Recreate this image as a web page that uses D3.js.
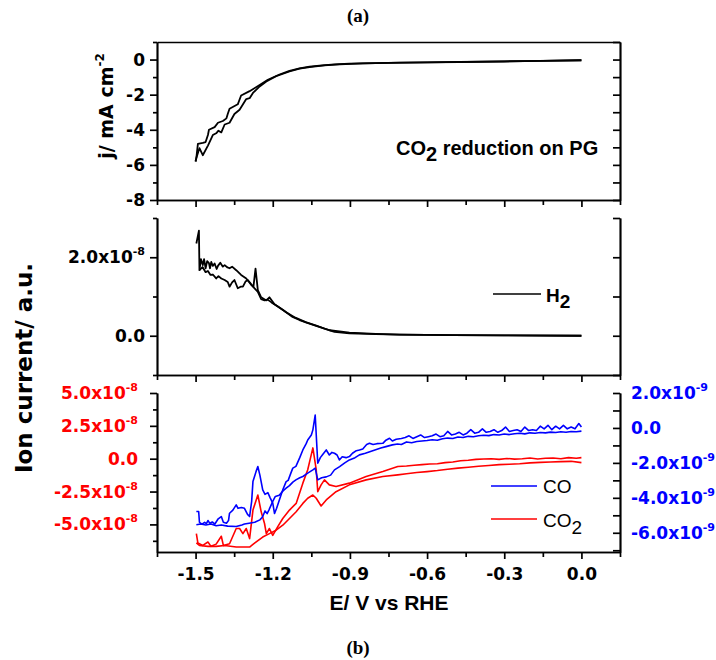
<!DOCTYPE html>
<html><head><meta charset="utf-8">
<script src="https://cdn.jsdelivr.net/npm/d3@7"></script>
<style>body{margin:0;background:#fff}</style>
</head><body>
<svg id="c" width="716" height="660" xmlns="http://www.w3.org/2000/svg"></svg>
<script>
// ---------------- DATA ----------------
const xTicks = [-1.5, -1.2, -0.9, -0.6, -0.3, 0.0];
const xMinorTicks = [-1.65, -1.35, -1.05, -0.75, -0.45, -0.15, 0.15];
const xTickLabels = ["-1.5", "-1.2", "-0.9", "-0.6", "-0.3", "0.0"];

const jTicks = [0, -2, -4, -6, -8];
const jMinorTicks = [1, -1, -3, -5, -7];
const jTickLabels = ["0", "-2", "-4", "-6", "-8"];

const h2Ticks = [2, 0];             // x10^-8
const h2MinorTicks = [3, 1, -1];
const h2TickLabels = [["2.0x10", "-8"], ["0.0", ""]];

const co2Ticks = [5, 2.5, 0, -2.5, -5];   // x10^-8
const co2MinorTicks = [3.75, 1.25, -1.25, -3.75, -6.25];
const co2TickLabels = [["5.0x10", "-8"], ["2.5x10", "-8"], ["0.0", ""], ["-2.5x10", "-8"], ["-5.0x10", "-8"]];

const coTicks = [2, 0, -2, -4, -6];       // x10^-9
const coMinorTicks = [1, -1, -3, -5, -7];
const coTickLabels = [["2.0x10", "-9"], ["0.0", ""], ["-2.0x10", "-9"], ["-4.0x10", "-9"], ["-6.0x10", "-9"]];

// current density j (mA cm^-2) vs E (V vs RHE), two scan branches
const jScanA = [[-1.5,-5.81],[-1.497,-5.6],[-1.491,-4.8],[-1.472,-4.75],[-1.461,-4.7],[-1.452,-4.3],[-1.448,-4.0],[-1.426,-3.85],[-1.413,-3.6],[-1.394,-3.5],[-1.38,-3.35],[-1.375,-3.1],[-1.368,-2.8],[-1.336,-2.55],[-1.323,-2.05],[-1.29,-1.8],[-1.251,-1.45],[-1.219,-1.15],[-1.174,-0.85],[-1.135,-0.64],[-1.096,-0.5],[-1.057,-0.4],[-1.018,-0.34],[-0.96,-0.27],[-0.902,-0.23],[-0.8,-0.2],[-0.707,-0.18],[-0.6,-0.16],[-0.447,-0.13],[-0.3,-0.1],[-0.15,-0.07],[0,-0.04]];
const jScanB = [[-1.5,-5.81],[-1.497,-5.6],[-1.485,-5.05],[-1.472,-5.45],[-1.452,-4.9],[-1.433,-4.3],[-1.42,-4.2],[-1.411,-4.05],[-1.4,-4.15],[-1.387,-3.7],[-1.368,-3.6],[-1.349,-3.1],[-1.329,-2.86],[-1.303,-2.25],[-1.29,-2.2],[-1.277,-1.9],[-1.251,-1.53],[-1.225,-1.25],[-1.187,-0.95],[-1.135,-0.68],[-1.096,-0.52],[-1.057,-0.43],[-1.0,-0.33],[-0.94,-0.27],[-0.85,-0.22],[-0.746,-0.19],[-0.6,-0.16],[-0.474,-0.14],[-0.3,-0.11],[-0.163,-0.08],[0,-0.04]];

// H2 ion current (x10^-8 a.u.)
const h2ScanA = [[-1.497,2.35],[-1.487,2.68],[-1.485,1.67],[-1.479,1.95],[-1.472,1.8],[-1.467,1.95],[-1.461,1.72],[-1.455,1.9],[-1.448,1.85],[-1.444,1.72],[-1.439,1.88],[-1.433,1.78],[-1.426,1.84],[-1.418,1.7],[-1.413,1.78],[-1.404,1.86],[-1.394,1.76],[-1.387,1.8],[-1.376,1.74],[-1.368,1.72],[-1.358,1.76],[-1.342,1.67],[-1.323,1.55],[-1.303,1.46],[-1.284,1.3],[-1.275,1.25],[-1.267,1.71],[-1.258,1.16],[-1.245,0.98],[-1.225,0.9],[-1.213,0.98],[-1.193,0.8],[-1.161,0.66],[-1.123,0.48],[-1.096,0.4],[-1.031,0.25],[-0.979,0.14],[-0.902,0.08],[-0.8,0.05],[-0.707,0.03],[-0.5,0.015],[-0.3,0.01],[0,0.0]];
const h2ScanB = [[-1.485,1.67],[-1.473,1.75],[-1.461,1.62],[-1.452,1.65],[-1.442,1.55],[-1.433,1.56],[-1.42,1.46],[-1.411,1.52],[-1.4,1.46],[-1.387,1.42],[-1.375,1.37],[-1.368,1.25],[-1.358,1.36],[-1.349,1.42],[-1.336,1.21],[-1.325,1.25],[-1.316,1.25],[-1.306,1.38],[-1.297,1.42],[-1.288,1.35],[-1.277,1.25],[-1.258,1.12],[-1.245,0.93],[-1.232,0.9],[-1.22,0.92],[-1.205,0.85],[-1.182,0.75],[-1.148,0.6],[-1.112,0.46],[-1.07,0.34],[-1.031,0.26],[-0.999,0.18],[-0.96,0.1],[-0.902,0.06],[-0.8,0.04],[-0.707,0.03],[-0.5,0.015],[-0.3,0.01],[0,0.0]];

// CO ion current (x10^-9 a.u.), right axis
const coScanA = [[-1.497,-4.78],[-1.488,-4.78],[-1.485,-5.4],[-1.475,-5.5],[-1.465,-5.4],[-1.458,-5.48],[-1.452,-5.3],[-1.445,-5.45],[-1.435,-5.38],[-1.425,-5.5],[-1.412,-5.2],[-1.4,-5.07],[-1.392,-5.4],[-1.38,-5.45],[-1.372,-5.3],[-1.368,-4.88],[-1.355,-4.7],[-1.342,-4.4],[-1.335,-4.6],[-1.322,-4.55],[-1.31,-4.6],[-1.298,-4.95],[-1.29,-5.07],[-1.282,-4.2],[-1.277,-3.07],[-1.265,-2.5],[-1.258,-2.21],[-1.25,-2.7],[-1.239,-3.54],[-1.23,-3.8],[-1.219,-3.7],[-1.21,-4.0],[-1.2,-4.3],[-1.193,-4.9],[-1.185,-4.6],[-1.174,-4.11],[-1.161,-3.54],[-1.148,-3.07],[-1.14,-3.0],[-1.13,-2.6],[-1.122,-2.3],[-1.11,-2.2],[-1.095,-1.7],[-1.083,-1.26],[-1.07,-0.9],[-1.064,-0.69],[-1.05,-0.4],[-1.044,-0.11],[-1.035,0.74],[-1.025,-2.02],[-1.015,-1.7],[-1.005,-1.5],[-0.992,-1.26],[-0.98,-1.55],[-0.97,-1.4],[-0.96,-1.45],[-0.95,-1.55],[-0.941,-1.83],[-0.93,-1.65],[-0.915,-1.7],[-0.902,-1.64],[-0.89,-1.45],[-0.875,-1.3],[-0.863,-1.26],[-0.85,-1.2],[-0.835,-0.95],[-0.824,-0.88],[-0.81,-0.95],[-0.795,-0.9],[-0.772,-0.88],[-0.76,-0.7],[-0.746,-0.59],[-0.735,-0.75],[-0.72,-0.65],[-0.7,-0.6],[-0.685,-0.55],[-0.67,-0.45],[-0.655,-0.6],[-0.64,-0.5],[-0.625,-0.4],[-0.61,-0.55],[-0.595,-0.5],[-0.58,-0.45],[-0.565,-0.35],[-0.55,-0.5],[-0.535,-0.45],[-0.52,-0.2],[-0.505,-0.4],[-0.49,-0.35],[-0.475,-0.25],[-0.46,-0.4],[-0.445,-0.3],[-0.43,-0.1],[-0.415,-0.3],[-0.4,-0.25],[-0.385,-0.05],[-0.37,-0.25],[-0.355,-0.2],[-0.34,-0.1],[-0.325,-0.25],[-0.31,-0.15],[-0.295,0.05],[-0.28,-0.2],[-0.265,-0.15],[-0.25,-0.1],[-0.235,-0.2],[-0.22,0.05],[-0.205,-0.15],[-0.19,-0.1],[-0.175,-0.15],[-0.16,0.1],[-0.145,-0.05],[-0.13,0.15],[-0.115,-0.1],[-0.1,0.1],[-0.085,-0.05],[-0.07,0.15],[-0.055,-0.05],[-0.04,0.05],[-0.025,-0.05],[-0.01,0.25],[0,0.05]];
const coScanB = [[-1.497,-5.54],[-1.48,-5.5],[-1.46,-5.55],[-1.44,-5.5],[-1.42,-5.6],[-1.4,-5.55],[-1.375,-5.62],[-1.342,-5.64],[-1.32,-5.55],[-1.31,-5.5],[-1.292,-5.45],[-1.27,-5.4],[-1.25,-5.26],[-1.24,-5.1],[-1.23,-4.75],[-1.222,-4.9],[-1.215,-4.7],[-1.2,-4.2],[-1.19,-3.92],[-1.175,-3.85],[-1.16,-3.6],[-1.148,-3.45],[-1.135,-3.3],[-1.122,-3.1],[-1.11,-2.97],[-1.095,-2.85],[-1.083,-2.78],[-1.064,-2.59],[-1.044,-2.4],[-1.035,-2.3],[-1.025,-2.97],[-1.01,-2.85],[-0.992,-2.8],[-0.975,-2.7],[-0.96,-2.4],[-0.94,-2.21],[-0.92,-2.0],[-0.902,-1.83],[-0.88,-1.7],[-0.863,-1.54],[-0.84,-1.45],[-0.82,-1.35],[-0.8,-1.25],[-0.78,-1.15],[-0.76,-1.07],[-0.735,-0.97],[-0.715,-0.92],[-0.7,-0.95],[-0.68,-0.8],[-0.66,-0.85],[-0.64,-0.78],[-0.62,-0.75],[-0.6,-0.72],[-0.58,-0.68],[-0.56,-0.7],[-0.54,-0.62],[-0.52,-0.58],[-0.5,-0.6],[-0.48,-0.52],[-0.46,-0.55],[-0.44,-0.48],[-0.42,-0.5],[-0.4,-0.45],[-0.38,-0.42],[-0.36,-0.44],[-0.34,-0.38],[-0.32,-0.4],[-0.3,-0.35],[-0.28,-0.38],[-0.26,-0.33],[-0.24,-0.3],[-0.22,-0.34],[-0.2,-0.28],[-0.18,-0.3],[-0.16,-0.26],[-0.14,-0.28],[-0.12,-0.24],[-0.1,-0.26],[-0.08,-0.22],[-0.06,-0.25],[-0.04,-0.2],[-0.02,-0.22],[0,-0.18]];

// CO2 ion current (x10^-8 a.u.), left axis
const co2ScanA = [[-1.497,-5.7],[-1.491,-6.42],[-1.472,-6.6],[-1.452,-6.34],[-1.44,-6.67],[-1.42,-6.5],[-1.4,-5.9],[-1.392,-6.6],[-1.368,-6.47],[-1.342,-5.31],[-1.329,-5.31],[-1.316,-5.7],[-1.303,-5.31],[-1.29,-6.08],[-1.277,-3.91],[-1.258,-2.76],[-1.245,-4.04],[-1.232,-4.93],[-1.225,-5.7],[-1.213,-5.31],[-1.2,-5.83],[-1.181,-5.19],[-1.161,-4.55],[-1.135,-3.91],[-1.109,-3.4],[-1.083,-1.86],[-1.064,-0.84],[-1.044,0.82],[-1.031,-0.84],[-1.025,-2.51],[-1.012,-1.99],[-0.999,-1.61],[-0.98,-1.99],[-0.954,-2.12],[-0.902,-1.86],[-0.837,-1.36],[-0.772,-0.97],[-0.714,-0.59],[-0.68,-0.55],[-0.65,-0.5],[-0.62,-0.45],[-0.59,-0.4],[-0.56,-0.38],[-0.53,-0.3],[-0.5,-0.25],[-0.47,-0.15],[-0.44,-0.12],[-0.41,-0.05],[-0.38,-0.02],[-0.35,0.0],[-0.32,-0.05],[-0.29,0.02],[-0.26,-0.03],[-0.23,0.0],[-0.2,0.05],[-0.17,-0.02],[-0.14,0.03],[-0.11,0.05],[-0.08,0.0],[-0.05,0.08],[-0.02,0.04],[0,0.08]];
const co2ScanB = [[-1.497,-6.4],[-1.485,-6.6],[-1.452,-6.67],[-1.42,-6.67],[-1.387,-6.6],[-1.342,-6.72],[-1.29,-6.72],[-1.277,-6.52],[-1.239,-5.96],[-1.213,-5.7],[-1.187,-5.44],[-1.161,-5.06],[-1.135,-4.55],[-1.109,-4.04],[-1.083,-3.4],[-1.064,-3.01],[-1.044,-2.76],[-1.031,-3.01],[-1.012,-3.6],[-0.992,-3.14],[-0.954,-2.51],[-0.902,-1.99],[-0.837,-1.61],[-0.772,-1.36],[-0.714,-1.23],[-0.68,-1.15],[-0.64,-1.05],[-0.6,-0.98],[-0.56,-0.9],[-0.52,-0.8],[-0.48,-0.72],[-0.44,-0.65],[-0.4,-0.58],[-0.36,-0.52],[-0.32,-0.45],[-0.28,-0.42],[-0.24,-0.38],[-0.2,-0.32],[-0.16,-0.28],[-0.12,-0.25],[-0.08,-0.22],[-0.04,-0.2],[0,-0.3]];

// ---------------- DRAW ----------------
const FONT = "'Liberation Sans', Arial, Helvetica, sans-serif";
const TFONT = "'DejaVu Sans', Verdana, sans-serif";
const TICK_FS = 17, SUP_FS = 11;
const svg = d3.select("#c");
const L = 157, R = 620;
const P1 = [42, 200], P2 = [218, 375], P3 = [393, 552];

const x = d3.scaleLinear().domain([-1.65, 0.15]).range([L, R]);
const yJ = d3.scaleLinear().domain([-8, 1]).range([P1[1], P1[0]]);
const yH2 = d3.scaleLinear().domain([-1, 3]).range([P2[1], P2[0]]);
const yCO2 = d3.scaleLinear().domain([-7.1, 5]).range([P3[1], P3[0]]);
const yCO = d3.scaleLinear().domain([-7.1, 2]).range([P3[1], P3[0]]);

function styleAxis(g, color) {
  g.attr("font-family", TFONT).attr("font-weight", "bold").attr("font-size", TICK_FS);
  g.selectAll("path").attr("stroke", "#000").attr("stroke-width", 1.7);
  g.selectAll("line").attr("stroke", "#000").attr("stroke-width", 1.7);
  g.selectAll("text").attr("fill", color || "#000");
}
function supLabels(g, labels) {
  g.selectAll(".tick text").each(function (d, i) {
    const t = d3.select(this);
    t.text(null);
    t.append("tspan").text(labels[i][0]);
    if (labels[i][1]) t.append("tspan").attr("dy", -8).attr("font-size", SUP_FS).text(labels[i][1]);
  });
}

function xAxis(yPos, withLabels) {
  const g = svg.append("g").attr("transform", `translate(0,${yPos})`);
  g.call(d3.axisBottom(x).tickValues(xMinorTicks).tickSize(5).tickSizeOuter(0).tickFormat(""));
  const g2 = svg.append("g").attr("transform", `translate(0,${yPos})`);
  g2.call(d3.axisBottom(x).tickValues(xTicks).tickSize(7).tickSizeOuter(0).tickPadding(9)
    .tickFormat((d, i) => withLabels ? xTickLabels[i] : ""));
  styleAxis(g); styleAxis(g2);
}
function yAxisL(scale, major, minor, fmt, color, pad) {
  const g = svg.append("g").attr("transform", `translate(${L},0)`);
  g.call(d3.axisLeft(scale).tickValues(minor).tickSize(4).tickSizeOuter(0).tickFormat(""));
  const g2 = svg.append("g").attr("transform", `translate(${L},0)`);
  g2.call(d3.axisLeft(scale).tickValues(major).tickSize(7).tickSizeOuter(0).tickPadding(pad).tickFormat(fmt));
  styleAxis(g); styleAxis(g2, color);
  return g2;
}
function yAxisR(scale, major, minor, fmt, color) {
  const g = svg.append("g").attr("transform", `translate(${R},0)`);
  g.call(d3.axisRight(scale).tickValues(minor).tickSize(-7).tickSizeOuter(0).tickFormat(""));
  const g2 = svg.append("g").attr("transform", `translate(${R},0)`);
  g2.call(d3.axisRight(scale).tickValues(major).tickSize(-7).tickSizeOuter(0).tickPadding(15).tickFormat(fmt));
  styleAxis(g); styleAxis(g2, color);
  return g2;
}
function drawLine(data, ys, color, w) {
  svg.append("path").datum(data)
    .attr("fill", "none").attr("stroke", color).attr("stroke-width", w).attr("stroke-linejoin", "round")
    .attr("d", d3.line().x(d => x(d[0])).y(d => ys(d[1])));
}

// Panel 1
svg.append("g").attr("transform", `translate(0,${P1[0]})`)
  .call(d3.axisTop(x).tickValues([]).tickSizeOuter(0)).call(styleAxis);
xAxis(P1[1], false);
yAxisL(yJ, jTicks, jMinorTicks, (d, i) => jTickLabels[i], "#000", 5);
yAxisR(yJ, jTicks, jMinorTicks, () => "");
drawLine(jScanA, yJ, "#000", 1.8);
drawLine(jScanB, yJ, "#000", 1.8);

// Panel 2
xAxis(P2[1], false);
supLabels(yAxisL(yH2, h2Ticks, h2MinorTicks, () => "x", "#000", 5), h2TickLabels);
yAxisR(yH2, h2Ticks, h2MinorTicks, () => "");
drawLine(h2ScanA, yH2, "#000", 1.8);
drawLine(h2ScanB, yH2, "#000", 1.8);

// Panel 3
xAxis(P3[1], true);
supLabels(yAxisL(yCO2, co2Ticks, co2MinorTicks, () => "x", "#ff0000", 12), co2TickLabels);
const gr = yAxisR(yCO, coTicks, coMinorTicks, () => "x", "#0000ff");
gr.selectAll(".tick text").attr("x", 11);
supLabels(gr, coTickLabels);
drawLine(co2ScanA, yCO2, "#ff0000", 1.6);
drawLine(co2ScanB, yCO2, "#ff0000", 1.6);
drawLine(coScanA, yCO, "#0000ff", 1.6);
drawLine(coScanB, yCO, "#0000ff", 1.6);

// Legends
const lg = svg.append("g").attr("font-family", FONT).attr("font-size", 19);
lg.append("line").attr("x1", 493).attr("x2", 541).attr("y1", 294).attr("y2", 294).attr("stroke", "#000").attr("stroke-width", 1.7);
const th = lg.append("text").attr("x", 546).attr("y", 302).attr("font-weight", "bold");
th.append("tspan").text("H"); th.append("tspan").attr("dy", 6).text("2");

lg.append("line").attr("x1", 491).attr("x2", 537).attr("y1", 486).attr("y2", 486).attr("stroke", "#0000ff").attr("stroke-width", 1.7);
lg.append("text").attr("x", 543).attr("y", 493).text("CO");
lg.append("line").attr("x1", 491).attr("x2", 537).attr("y1", 519).attr("y2", 519).attr("stroke", "#ff0000").attr("stroke-width", 1.7);
const tc = lg.append("text").attr("x", 543).attr("y", 527);
tc.append("tspan").text("CO"); tc.append("tspan").attr("dy", 7).text("2");

// Annotation
const an = svg.append("text").attr("x", 396).attr("y", 155).attr("font-family", FONT).attr("font-weight", "bold").attr("font-size", 20);
an.append("tspan").text("CO");
an.append("tspan").attr("dy", 6).text("2");
an.append("tspan").attr("dy", -6).text(" reduction on PG");

// Axis titles
const jt = svg.append("text").attr("transform", "translate(113,106) rotate(-90)")
  .attr("text-anchor", "middle").attr("font-family", TFONT).attr("font-weight", "bold").attr("font-size", 19);
jt.append("tspan").text("j/ mA cm");
jt.append("tspan").attr("dy", -9).attr("font-size", 12).text("-2");

svg.append("text").attr("transform", "translate(32,368) rotate(-90)")
  .attr("text-anchor", "middle").attr("font-family", TFONT).attr("font-weight", "bold").attr("font-size", 23)
  .text("Ion current/ a.u.");

svg.append("text").attr("x", 389).attr("y", 610).attr("text-anchor", "middle")
  .attr("font-family", FONT).attr("font-weight", "bold").attr("font-size", 21).text("E/ V vs RHE");

svg.append("text").attr("x", 358).attr("y", 22).attr("text-anchor", "middle")
  .attr("font-family", "'Liberation Serif', 'DejaVu Serif', serif").attr("font-weight", "bold").attr("font-size", 19).text("(a)");
svg.append("text").attr("x", 358).attr("y", 654).attr("text-anchor", "middle")
  .attr("font-family", "'Liberation Serif', 'DejaVu Serif', serif").attr("font-weight", "bold").attr("font-size", 19).text("(b)");
</script>
</body></html>
